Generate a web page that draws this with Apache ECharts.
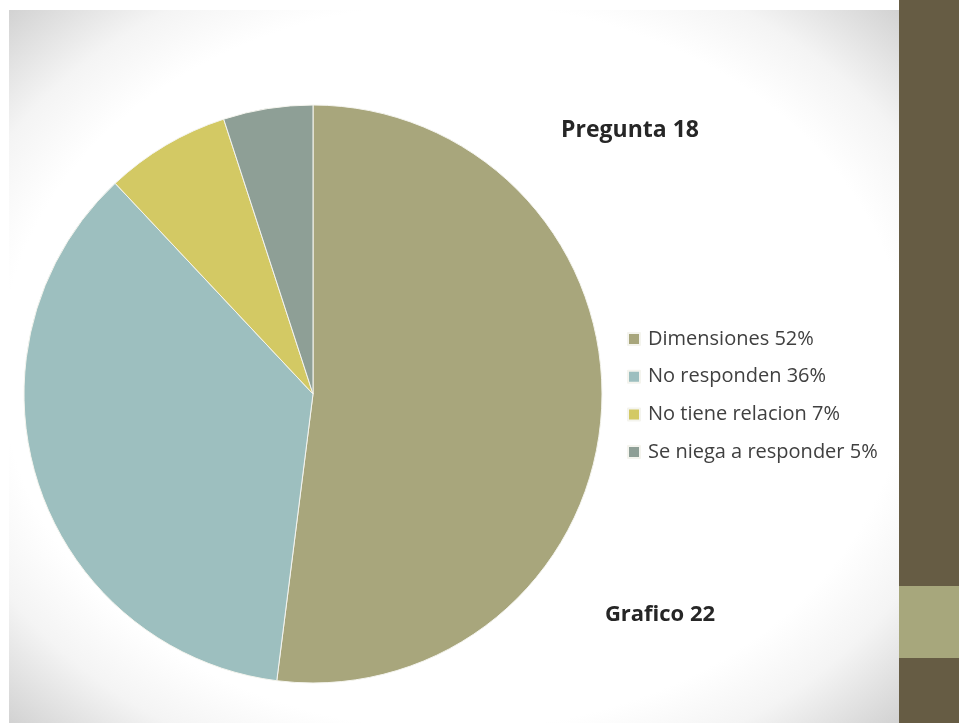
<!DOCTYPE html>
<html>
<head>
<meta charset="utf-8">
<script src="https://cdn.jsdelivr.net/npm/echarts@6/dist/echarts.min.js"></script>
<style>
  html, body { margin: 0; padding: 0; background: #ffffff; }
  #slide {
    position: absolute; left: 9px; top: 10px; width: 890px; height: 713px;
    background: radial-gradient(ellipse farthest-corner at 50% 50%, #ffffff 72%, #f4f4f4 84%, #d2d2d2 100%);
  }
  #chart { position: absolute; left: 0; top: 0; width: 959px; height: 723px; }
</style>
</head>
<body>
<div id="slide"></div>
<div id="chart"></div>
<script>
// Respuestas a la pregunta 18
const categories = ['Dimensiones', 'No responden', 'No tiene relacion', 'Se niega a responder'];
const percentages = [52, 36, 7, 5];
const sliceColors = ['#a8a67c', '#9dbfbf', '#d3c964', '#8e9f96'];

const chart = echarts.init(document.getElementById('chart'), null, { renderer: 'canvas' });

const pieData = categories.map((name, i) => ({
  name: name,
  value: percentages[i],
  itemStyle: { color: sliceColors[i] }
}));

chart.setOption({
  backgroundColor: 'transparent',
  animation: false,
  title: [
    {
      text: 'Pregunta 18',
      left: 625, top: 125, textAlign: 'center', textVerticalAlign: 'middle',
      textStyle: { fontFamily: 'Open Sans', fontWeight: 'bold', fontSize: 23, color: '#262626' }
    },
    {
      text: 'Grafico 22',
      left: 655, top: 610, textAlign: 'center', textVerticalAlign: 'middle',
      textStyle: { fontFamily: 'Open Sans', fontWeight: 'bold', fontSize: 22, color: '#262626' }
    }
  ],
  legend: {
    orient: 'vertical',
    left: 627,
    top: 329,
    padding: 0,
    itemWidth: 12,
    itemHeight: 12,
    itemGap: 17.7,
    icon: 'rect',
    data: categories,
    formatter: function (name) {
      return name + ' ' + percentages[categories.indexOf(name)] + '%';
    },
    textStyle: { fontFamily: 'Open Sans', fontSize: 20, lineHeight: 20, color: '#404040', padding: [0, 0, 0, 3] }
  },
  graphic: [
    { type: 'rect', shape: { x: 899, y: 0, width: 60, height: 723 }, style: { fill: '#665c44' }, silent: true },
    { type: 'rect', shape: { x: 899, y: 586, width: 60, height: 72 }, style: { fill: '#a7a77c' }, silent: true }
  ],
  series: [{
    type: 'pie',
    center: [313, 394],
    radius: 289,
    startAngle: 90,
    clockwise: true,
    label: { show: false },
    labelLine: { show: false },
    emphasis: { disabled: true },
    itemStyle: { borderColor: '#f4f4ee', borderWidth: 1 },
    data: pieData
  }]
});
</script>
</body>
</html>
